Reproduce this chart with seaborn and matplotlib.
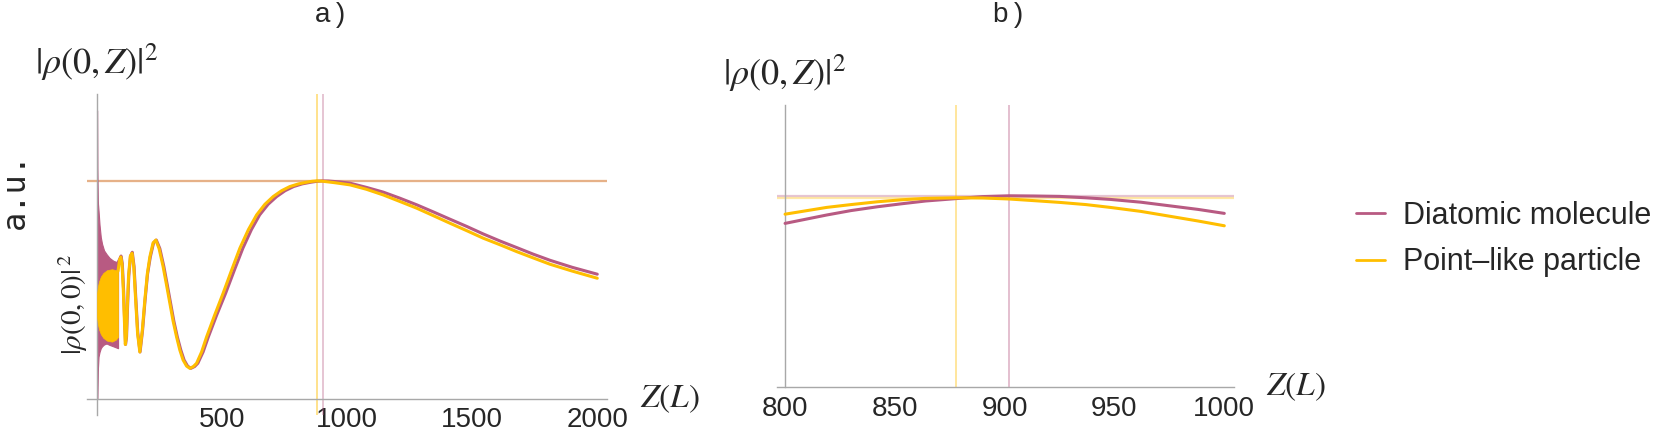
import matplotlib
matplotlib.use("Agg")
import matplotlib.pyplot as plt
import matplotlib.lines as mlines
import numpy as np
import pandas as pd
import seaborn as sns

# ---------------- data ----------------
series_names = ["Diatomic molecule", "Point\u2013like particle"]

# panel a) smooth part of |rho(0,Z)|^2 (units: |rho(0,0)|^2 = 1)
point_z = [84, 90, 95, 100, 105, 109, 113, 117, 121, 126, 133, 140, 147, 154, 162, 171,
           181, 191, 201, 211, 224, 235, 248, 264, 278, 291, 304, 318, 331, 344, 358, 371,
           385, 398, 418, 438, 470, 504, 538, 571, 605, 638, 671, 704, 738, 771, 805, 838,
           860, 878, 900, 950, 1011, 1077, 1144, 1211, 1278, 1344, 1411, 1478, 1544, 1611,
           1678, 1744, 1811, 1900, 2000]
point_val = [1.36, 1.48, 1.51, 1.43, 1.16, 0.86, 0.58, 0.66, 0.98, 1.31, 1.52, 1.55, 1.40,
             1.07, 0.70, 0.50, 0.73, 1.05, 1.33, 1.51, 1.66, 1.69, 1.60, 1.41, 1.21, 1.02,
             0.83, 0.66, 0.52, 0.415, 0.35, 0.326, 0.345, 0.38, 0.50, 0.66, 0.89, 1.124,
             1.37, 1.603, 1.80, 1.957, 2.07, 2.152, 2.215, 2.259, 2.287, 2.305, 2.315, 2.319,
             2.316, 2.30, 2.277, 2.23, 2.17, 2.10, 2.029, 1.95, 1.869, 1.79, 1.71, 1.64,
             1.567, 1.50, 1.433, 1.36, 1.284]

diat_z = [84, 91, 96, 101, 106, 110, 114, 118, 122, 127, 134, 141, 148, 155, 163, 172,
          182, 192, 202, 213, 226, 237, 251, 267, 281, 294, 307, 321, 335, 348, 362, 375,
          390, 403, 424, 445, 478, 514, 549, 583, 617, 650, 684, 718, 752, 786, 820, 855,
          880, 902, 925, 970, 1011, 1077, 1144, 1211, 1278, 1344, 1411, 1478, 1544, 1611,
          1678, 1744, 1811, 1900, 2000]
diat_val = [1.45, 1.49, 1.52, 1.44, 1.17, 0.86, 0.58, 0.66, 0.98, 1.31, 1.52, 1.56, 1.41,
            1.07, 0.70, 0.50, 0.73, 1.05, 1.33, 1.51, 1.66, 1.69, 1.60, 1.41, 1.21, 1.02,
            0.83, 0.66, 0.52, 0.415, 0.35, 0.326, 0.345, 0.38, 0.50, 0.66, 0.89, 1.124,
            1.37, 1.603, 1.80, 1.957, 2.07, 2.152, 2.215, 2.259, 2.287, 2.305, 2.315, 2.319,
            2.318, 2.308, 2.295, 2.25, 2.20, 2.135, 2.065, 1.99, 1.912, 1.835, 1.755, 1.68,
            1.61, 1.54, 1.475, 1.40, 1.327]

# rapid-oscillation band near Z = 0 (upper / lower envelope)
diat_env_z = [0, 1, 3, 6, 10, 15, 20, 28, 38, 50, 65, 84]
diat_env_hi = [3.07, 2.45, 2.10, 2.00, 1.85, 1.72, 1.65, 1.58, 1.54, 1.50, 1.47, 1.45]
diat_env_lo = [0.0, 0.0, 0.30, 0.45, 0.50, 0.54, 0.56, 0.58, 0.59, 0.575, 0.56, 0.54]
point_env_z = [0, 3, 8, 15, 25, 40, 60, 75, 84]
point_env_hi = [1.12, 1.19, 1.25, 1.30, 1.34, 1.37, 1.38, 1.37, 1.36]
point_env_lo = [0.88, 0.80, 0.74, 0.69, 0.65, 0.62, 0.61, 0.63, 0.66]

# maxima
peak_z_point, peak_z_diat = 878, 902
peak_val_point, peak_val_diat = 2.314, 2.319

# panel b) zoom 800..1000
zoom_z = [800, 819, 830, 842, 853, 864, 878, 890, 902, 913, 925, 937, 948, 962, 975, 988, 1000]
zoom_point = [2.273, 2.290, 2.297, 2.304, 2.309, 2.3125, 2.314, 2.3135, 2.311, 2.307,
              2.3025, 2.297, 2.290, 2.280, 2.268, 2.256, 2.244]
zoom_diat = [2.250, 2.271, 2.282, 2.2915, 2.299, 2.306, 2.312, 2.317, 2.319, 2.3185,
             2.3175, 2.314, 2.310, 2.303, 2.294, 2.285, 2.275]

xticks_a = [500, 1000, 1500, 2000]
xticks_b = [800, 850, 900, 950, 1000]

# ---------------- style ----------------
sns.set_style("white")
plt.rcParams["font.family"] = ["Liberation Sans", "DejaVu Sans"]
plt.rcParams["mathtext.fontset"] = "stix"

C_DIAT = "#B85A82"
C_POINT = "#FFBE00"
GRAY = "#A8A8A8"
LW = 2.2

fig = plt.figure(figsize=(16.61, 4.41), dpi=100)
axA = fig.add_axes([0.0524, 0.059, 0.3129, 0.7272])
axB = fig.add_axes([0.4675, 0.1218, 0.2754, 0.640])

dfA_d = pd.DataFrame({"Z": diat_z, "v": diat_val})
dfA_p = pd.DataFrame({"Z": point_z, "v": point_val})
dfB_d = pd.DataFrame({"Z": zoom_z, "v": zoom_diat})
dfB_p = pd.DataFrame({"Z": zoom_z, "v": zoom_point})

# ---- panel a ----
axA.axhline(peak_val_point, color=C_POINT, alpha=0.45, lw=1.6, zorder=1)
axA.axhline(peak_val_diat, color=C_DIAT, alpha=0.35, lw=1.6, zorder=1)
axA.axvline(peak_z_point, color=C_POINT, alpha=0.45, lw=1.4, zorder=1)
axA.axvline(peak_z_diat, color=C_DIAT, alpha=0.35, lw=1.4, zorder=1)

axA.fill_between(diat_env_z, diat_env_lo, diat_env_hi, color=C_DIAT, lw=0.8,
                 edgecolor=C_DIAT, zorder=2)
sns.lineplot(data=dfA_d, x="Z", y="v", ax=axA, color=C_DIAT, lw=LW, zorder=3)
axA.fill_between(point_env_z, point_env_lo, point_env_hi, color=C_POINT, lw=0.5,
                 edgecolor=C_POINT, zorder=4)
sns.lineplot(data=dfA_p, x="Z", y="v", ax=axA, color=C_POINT, lw=LW, zorder=5)

axA.set_xlim(-40, 2038)
axA.set_ylim(-0.17, 3.24)

# ---- panel b ----
axB.axhline(peak_val_diat, color=C_DIAT, alpha=0.35, lw=1.6, zorder=1)
axB.axhline(peak_val_point, color=C_POINT, alpha=0.35, lw=1.6, zorder=1)
axB.axvline(peak_z_point, color=C_POINT, alpha=0.45, lw=1.2, zorder=1)
axB.axvline(peak_z_diat, color=C_DIAT, alpha=0.45, lw=1.2, zorder=1)
sns.lineplot(data=dfB_d, x="Z", y="v", ax=axB, color=C_DIAT, lw=LW, zorder=3)
sns.lineplot(data=dfB_p, x="Z", y="v", ax=axB, color=C_POINT, lw=LW, zorder=4)
axB.set_xlim(796.1, 1004.4)
axB.set_ylim(1.840, 2.546)

# ---- axes styling (Mathematica-like) ----
for ax in (axA, axB):
    ax.set_xlabel("")
    ax.set_ylabel("")
    ax.spines["top"].set_visible(False)
    ax.spines["right"].set_visible(False)
    for s in ("left", "bottom"):
        ax.spines[s].set_color(GRAY)
        ax.spines[s].set_linewidth(1.0)
    ax.tick_params(axis="x", which="major", direction="in", length=6, width=0.9,
                   color=GRAY, labelsize=20, pad=6)
    ax.tick_params(axis="x", which="minor", direction="in", length=3.5, width=0.8,
                   color=GRAY)

axA.spines["left"].set_position(("data", 0))
axA.spines["bottom"].set_position(("data", 0))
axA.set_xticks(xticks_a)
axA.set_xticklabels([str(t) for t in xticks_a])
axA.set_xticks([z for z in range(100, 2001, 100) if z not in xticks_a], minor=True)
axA.set_yticks([1.0])
axA.set_yticklabels([r"$|\rho(0,0)|^{\,2}$"], rotation=90, va="center", fontsize=21)
axA.tick_params(axis="y", direction="in", length=4, color=GRAY, pad=5)

axB.spines["left"].set_position(("data", 800))
axB.set_xticks(xticks_b)
axB.set_xticklabels([str(t) for t in xticks_b])
axB.set_xticks([z for z in range(810, 1000, 10) if z not in xticks_b], minor=True)
axB.set_yticks([])

# ---- labels ----
fig.text(0.0211, 0.859, r"$|\rho(0,Z)|^2$", fontsize=26, ha="left", va="center")
fig.text(0.4353, 0.834, r"$|\rho(0,Z)|^2$", fontsize=26, ha="left", va="center")
fig.text(0.3853, 0.095, r"$Z(L)$", fontsize=24, ha="left", va="center")
fig.text(0.7622, 0.1224, r"$Z(L)$", fontsize=24, ha="left", va="center")
fig.text(0.1987, 0.966, "a\u2009)", fontsize=20, ha="center", va="center")
fig.text(0.607, 0.966, "b\u2009)", fontsize=20, ha="center", va="center")
fig.text(0.0095, 0.569, "a.u.", fontsize=23, family="DejaVu Sans Mono",
         rotation=90, ha="center", va="center")

handles = [mlines.Line2D([], [], color=C_DIAT, lw=2.0),
           mlines.Line2D([], [], color=C_POINT, lw=2.0)]
fig.legend(handles, series_names, loc="center left", bbox_to_anchor=(1356 / 1661, 1 - 239 / 441),
           frameon=False, fontsize=22, handlelength=0.95, handletextpad=0.6,
           labelspacing=0.55, borderpad=0, borderaxespad=0)

fig.savefig("out.png", dpi=100)
